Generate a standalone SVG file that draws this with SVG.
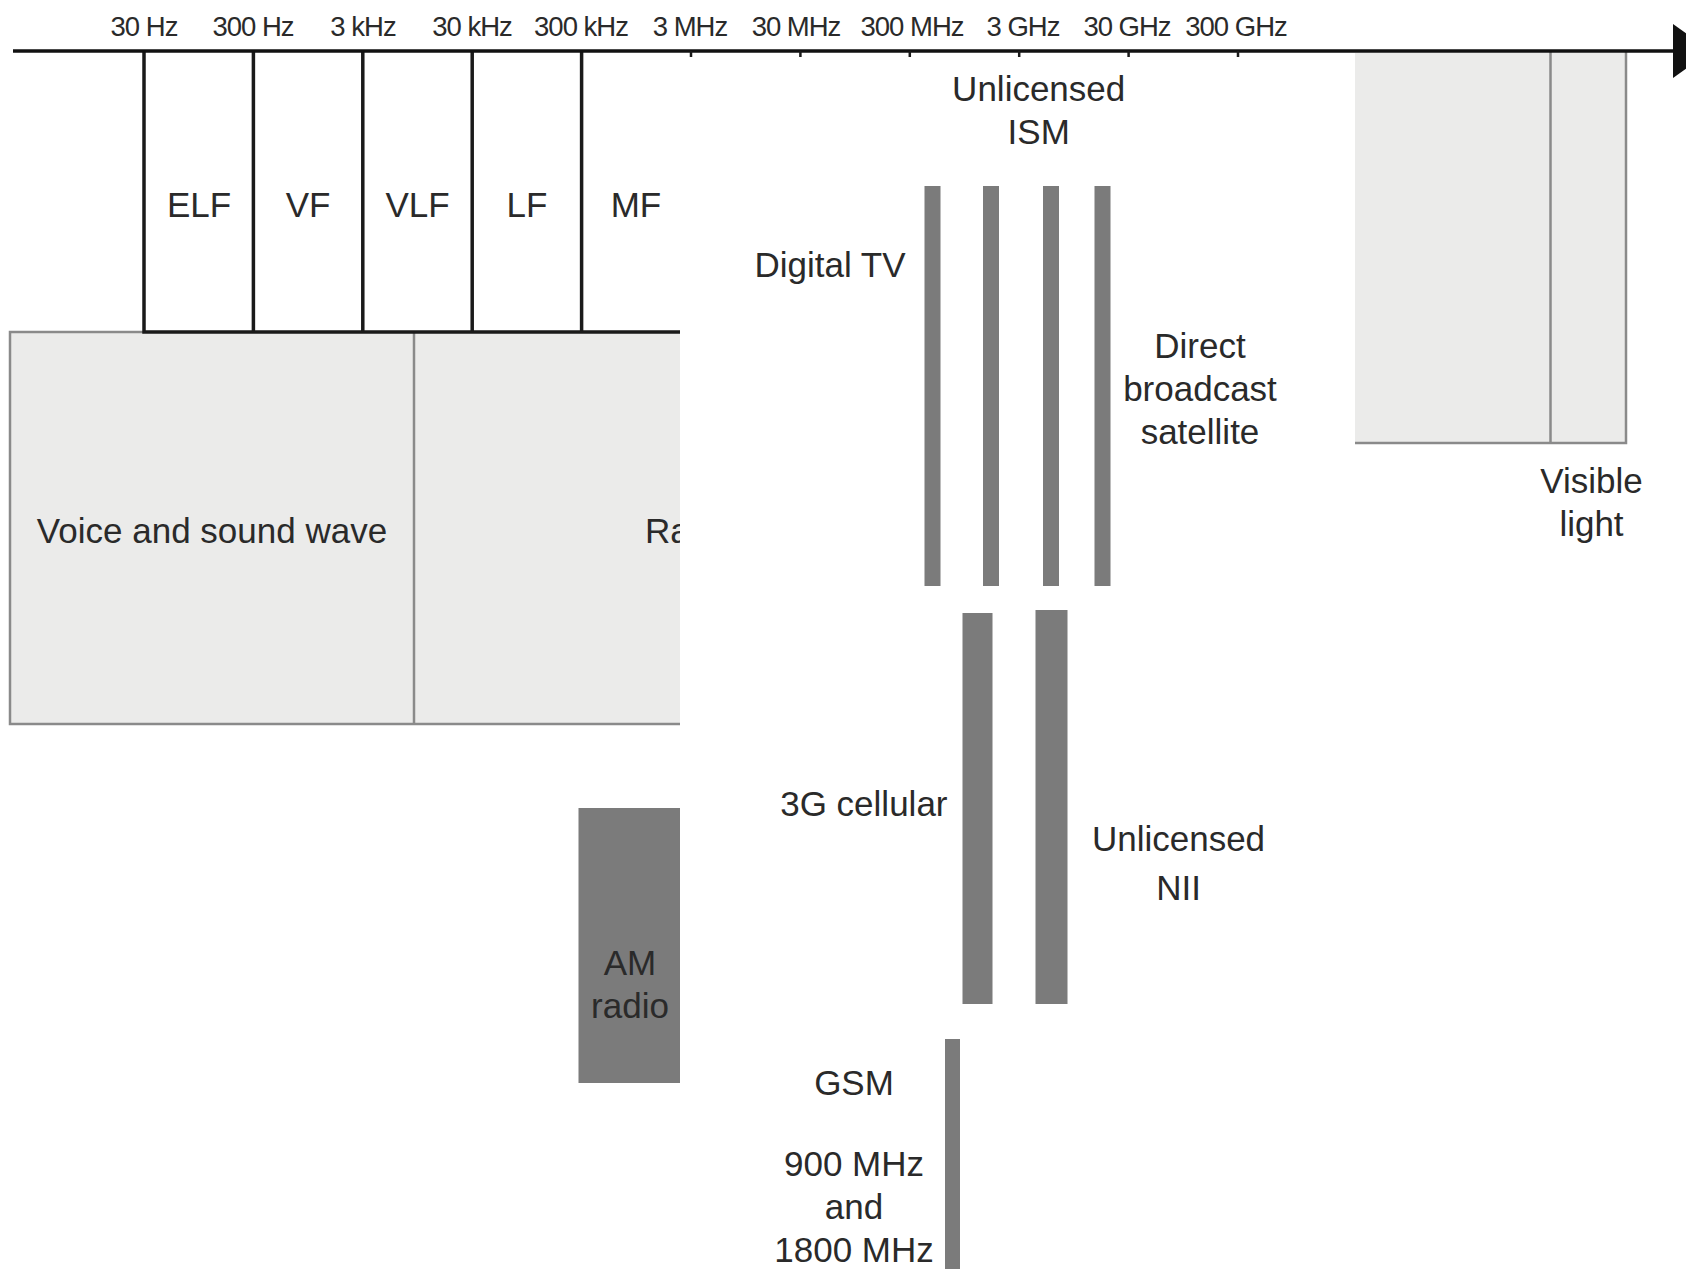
<svg xmlns="http://www.w3.org/2000/svg" width="1686" height="1269" viewBox="0 0 1686 1269">
<style>
text{font-family:"Liberation Sans",Arial,sans-serif;fill:#2a2a2a}
.tick{font-size:27.5px;letter-spacing:-1px;text-anchor:middle}
.lbl{font-size:35px;text-anchor:middle}
.lblr{font-size:35px;text-anchor:end}
.band{fill:#fff;stroke:#1a1a1a;stroke-width:3.5}
.light{fill:#ebebea;stroke:none}
.gline{stroke:#8a8a8a;stroke-width:2.5;fill:none}
.bar{fill:#7b7b7b}
.tk{stroke:#1a1a1a;stroke-width:2.5}
</style>
<defs>
<marker id="arrow" markerUnits="userSpaceOnUse" markerWidth="40" markerHeight="56" refX="0" refY="27" orient="auto">
<path d="M0,0 L38,27 L0,54 z" fill="#111"/>
</marker>
</defs>
<rect width="1686" height="1269" fill="#fff"/>

<g id="tick-labels">
<text class="tick" x="144" y="36">30 Hz</text>
<text class="tick" x="253" y="36">300 Hz</text>
<text class="tick" x="363" y="36">3 kHz</text>
<text class="tick" x="472" y="36">30 kHz</text>
<text class="tick" x="581" y="36">300 kHz</text>
<text class="tick" x="690" y="36">3 MHz</text>
<text class="tick" x="796" y="36">30 MHz</text>
<text class="tick" x="912" y="36">300 MHz</text>
<text class="tick" x="1023" y="36">3 GHz</text>
<text class="tick" x="1127" y="36">30 GHz</text>
<text class="tick" x="1236" y="36">300 GHz</text>
</g>

<g id="lower-bands">
<rect class="light" x="10" y="332" width="670" height="392"/>
<path class="gline" d="M680,724 L10,724 L10,332 L144,332 M414,332 L414,724"/>
<text class="lbl" x="212" y="543">Voice and sound wave</text>
<text class="lbl" x="645" y="543" style="text-anchor:start">Ra</text>
<rect x="680" y="320" width="30" height="420" fill="#fff"/>
</g>

<g id="freq-bands">
<path class="band" d="M680,332 L144,332 L144,51 M253.4,51 L253.4,332 M362.8,51 L362.8,332 M472.2,51 L472.2,332 M581.6,51 L581.6,332"/>
<text class="lbl" x="199" y="217">ELF</text>
<text class="lbl" x="308" y="217">VF</text>
<text class="lbl" x="417.5" y="217">VLF</text>
<text class="lbl" x="527" y="217">LF</text>
<text class="lbl" x="636" y="217">MF</text>
<rect x="680" y="54" width="40" height="290" fill="#fff"/>
</g>

<g id="am-radio">
<rect class="bar" x="578.5" y="808" width="101.5" height="275"/>
<text class="lbl" x="630" y="975">AM</text>
<text class="lbl" x="630" y="1018">radio</text>
</g>

<g id="visible-light">
<rect class="light" x="1355" y="53" width="271" height="390"/>
<path class="gline" d="M1355,443 L1626,443 L1626,51 M1550.5,51 L1550.5,443"/>
<text class="lbl" x="1591.5" y="493">Visible</text>
<text class="lbl" x="1591.5" y="536">light</text>
</g>

<g id="ism">
<text class="lbl" x="1038.7" y="101">Unlicensed</text>
<text class="lbl" x="1038.7" y="144">ISM</text>
</g>

<g id="digital-tv">
<rect class="bar" x="924.5" y="186" width="16" height="400"/>
<rect class="bar" x="983" y="186" width="16" height="400"/>
<rect class="bar" x="1043" y="186" width="16" height="400"/>
<rect class="bar" x="1094.5" y="186" width="16" height="400"/>
<text class="lblr" x="905.5" y="277">Digital TV</text>
</g>

<g id="dbs">
<text class="lbl" x="1200" y="358">Direct</text>
<text class="lbl" x="1200" y="401">broadcast</text>
<text class="lbl" x="1200" y="444">satellite</text>
</g>

<g id="cellular-3g">
<rect class="bar" x="962.5" y="613" width="30" height="391"/>
<text class="lblr" x="947.5" y="816">3G cellular</text>
</g>

<g id="nii">
<rect class="bar" x="1035.5" y="610" width="32" height="394"/>
<text class="lbl" x="1178.5" y="851">Unlicensed</text>
<text class="lbl" x="1178.5" y="900">NII</text>
</g>

<g id="gsm">
<rect class="bar" x="945" y="1039" width="15" height="235"/>
<text class="lbl" x="854" y="1095">GSM</text>
<text class="lbl" x="854" y="1176">900 MHz</text>
<text class="lbl" x="854" y="1219">and</text>
<text class="lbl" x="854" y="1262">1800 MHz</text>
</g>

<g id="connectors">
<line x1="13" y1="51" x2="1673" y2="51" stroke="#111" stroke-width="3.5" marker-end="url(#arrow)"/>
<path class="tk" d="M691,51 V57 M800.4,51 V57 M909.8,51 V57 M1019.2,51 V57 M1128.6,51 V57 M1238,51 V57"/>
</g>
</svg>
